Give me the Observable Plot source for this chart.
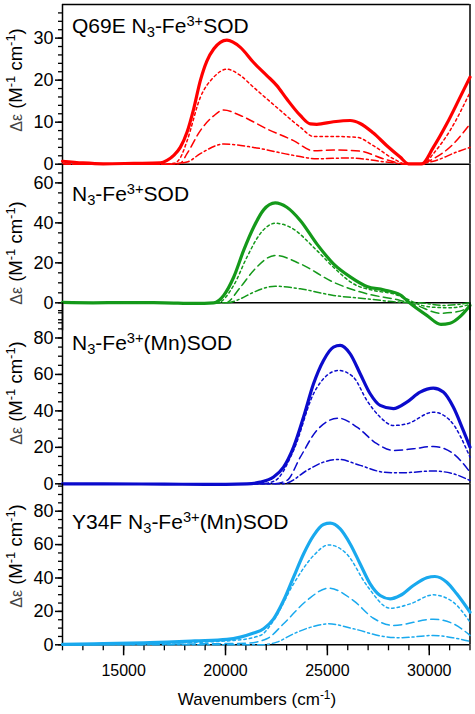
<!DOCTYPE html>
<html><head><meta charset="utf-8">
<script src="https://cdn.jsdelivr.net/npm/d3@7"></script>
<script src="https://cdn.jsdelivr.net/npm/@observablehq/plot@0.6"></script>
<style>
body{margin:0;background:#fff;font-family:"Liberation Sans",Arial,sans-serif;}
#c{position:relative;width:475px;height:714px;overflow:hidden;background:#fff}
#c svg{position:absolute;left:0;top:0}
.t{position:absolute;font-size:21px;line-height:21px;color:#000;white-space:nowrap}
.t sub,.t sup{font-size:0.7em;line-height:0}
.t sub{vertical-align:-0.25em}
.t sup{vertical-align:0.45em}
.yl{position:absolute;font-size:18.5px;line-height:18px;white-space:nowrap;transform:translate(-50%,-50%) rotate(-90deg)}
.yl sup{font-size:0.7em;line-height:0;vertical-align:0.5em}
.yl .d{font-size:16px;color:#444}
.xl{position:absolute;font-size:17px;line-height:17px;white-space:nowrap;transform:translateX(-50%)}
.xl sup{font-size:0.7em;line-height:0;vertical-align:0.5em}
</style></head><body><div id="c"></div>
<script>
// ---------- data (wavenumber cm^-1, Δε M^-1 cm^-1) ----------
const titles = ["Q69E N<sub>3</sub>-Fe<sup>3+</sup>SOD", "N<sub>3</sub>-Fe<sup>3+</sup>SOD", "N<sub>3</sub>-Fe<sup>3+</sup>(Mn)SOD", "Y34F N<sub>3</sub>-Fe<sup>3+</sup>(Mn)SOD"];
const xMajorTicks = [15000, 20000, 25000, 30000];
const xMinorTicks = [12000,13000,14000,15000,16000,17000,18000,19000,20000,21000,22000,23000,24000,25000,26000,27000,28000,29000,30000,31000,32000];
const yMajor1 = [0, 10, 20, 30];
const yMajor2 = [0, 20, 40, 60];
const yMajor3 = [0, 20, 40, 60, 80];
const yMajor4 = [0, 20, 40, 60, 80];

// Panel 1: Q69E N3-Fe3+SOD (red)
const q69eSolid = [[12000,0.7],[13000,0.3],[14000,0.1],[15500,0.2],[16800,0.3],[17130,0.9],[17460,2.1],[17780,4.0],[18110,7.6],[18430,13.0],[18765,19.9],[19090,24.6],[19420,27.4],[19745,29.0],[20070,29.5],[20730,27.8],[21380,24.2],[22030,21.1],[22520,18.7],[23010,15.5],[23670,11.6],[24160,9.6],[24480,9.5],[25300,10.1],[26120,10.4],[26610,9.7],[27260,7.4],[27920,4.4],[28570,1.7],[28980,0.1],[29630,0.1],[30200,4.0],[30860,9.6],[31510,15.9],[32000,20.7]];
const q69eDot = [[12000,0],[16800,0],[17460,0.2],[17780,1.5],[18110,5.5],[18765,15.9],[19420,20.7],[20070,22.6],[20730,21.1],[21380,18.3],[22520,13.5],[23670,8.8],[24320,6.6],[25300,6.6],[26450,6.4],[27260,4.4],[28240,1.3],[28900,0],[29710,0],[30200,2.5],[31020,8.0],[32000,17.1]];
const q69eDash = [[12000,0],[17000,0],[17800,0.3],[18110,2.5],[18765,8.0],[19420,11.5],[19910,12.9],[20730,11.6],[22030,8.4],[23340,5.6],[24320,3.2],[25300,3.4],[26610,3.1],[27750,1.3],[28900,0],[29550,0],[30200,1.3],[31180,4.8],[32000,9.6]];
const q69eDashDot = [[12000,0],[17300,0],[18110,0.5],[18765,2.5],[19910,4.8],[21380,4.0],[23340,2.1],[24480,1.3],[26120,1.5],[27750,0.6],[29060,0],[30200,0.7],[31350,2.9],[32000,4.0]];

// Panel 2: N3-Fe3+SOD (green)
const feSolid = [[12000,0.2],[13500,0],[15000,0.1],[17000,0],[18500,-0.3],[19420,0],[19910,3.7],[20400,12.8],[20890,26.2],[21380,37.8],[21870,46.5],[22440,50.0],[23010,47.8],[23670,41.2],[24480,29.5],[25300,19.5],[26120,13.0],[26940,8.2],[27750,6.5],[28570,4.0],[29090,-0.5],[29880,-6.3],[30570,-10.8],[31020,-10.2],[31550,-6.5],[32000,-1.3]];
const feDot = [[12000,0],[19600,0],[20400,8.7],[21050,22.8],[21700,34.5],[22440,39.8],[23180,37.8],[24480,26.2],[25300,17.8],[26280,9.5],[27260,6.2],[28240,4.5],[28900,2.0],[29390,-0.5],[30200,-2.2],[31020,-2.5],[32000,-0.8]];
const feDash = [[12000,0],[20000,0],[20730,7.8],[21380,16.2],[22440,23.7],[23670,19.5],[25300,10.3],[26940,4.5],[28570,1.2],[29390,-1.3],[30530,-5.2],[31350,-4.5],[32000,-2.2]];
const feDashDot = [[12000,0],[20100,0],[20730,2.0],[21380,5.3],[22440,8.3],[23670,7.0],[25300,3.7],[26940,2.0],[28570,0.3],[29550,0],[30700,-1.3],[32000,0]];

// Panel 3: N3-Fe3+(Mn)SOD (blue)
const mnSolid = [[12000,0],[14000,0],[17000,-0.2],[19000,-0.3],[21050,0],[21710,0.9],[22360,3.7],[22850,9.1],[23340,20.1],[23830,36.6],[24320,54.9],[24810,67.7],[25300,75.0],[25630,75.9],[26120,71.3],[26610,60.4],[27100,49.4],[27590,43.0],[28240,41.2],[28900,44.8],[29550,50.3],[30200,52.5],[30690,50.3],[31180,42.1],[31670,29.3],[32000,20.1]];
const mnDot = [[12000,0],[21700,0],[22400,1.5],[23340,18.3],[24320,49.4],[24970,59.4],[25550,62.2],[26280,58.5],[26940,45.7],[27590,36.6],[28240,32.0],[28900,32.9],[30200,39.3],[31020,34.8],[32000,14.6]];
const mnDash = [[12000,0],[22300,0],[23010,1.8],[23670,14.6],[24480,29.3],[25550,36.0],[26450,31.1],[27430,22.0],[28240,18.3],[29220,19.2],[30200,20.5],[31180,16.5],[32000,6.4]];
const mnDashDot = [[12000,0],[22700,0],[23010,0.4],[23990,7.3],[24810,11.9],[25550,13.4],[26610,10.1],[27750,6.4],[28570,6.0],[30200,7.0],[31180,5.5],[32000,1.8]];

// Panel 4: Y34F N3-Fe3+(Mn)SOD (light blue)
const y34fSolid = [[12000,0.3],[14000,0.7],[16000,1.2],[17130,1.6],[18500,2.3],[20070,3.2],[20730,4.6],[21380,7.0],[21870,9.6],[22360,15.5],[22850,26.5],[23340,40.5],[23830,54.4],[24320,65.4],[24810,72.0],[25140,72.8],[25630,69.4],[26120,60.4],[26610,48.4],[27100,36.5],[27590,29.5],[28080,27.5],[28570,29.5],[29220,35.5],[29880,40.1],[30280,40.9],[30860,37.5],[31350,30.5],[32000,19.5]];
const y34fDot = [[12000,0],[14000,0.4],[17130,1.0],[20400,2.6],[21710,5.6],[22360,14.5],[23340,36.5],[24320,53.4],[25060,59.8],[25950,54.4],[26940,35.5],[28080,21.9],[29060,24.5],[30200,29.9],[31180,25.5],[32000,13.6]];
const y34fDash = [[12000,0],[16000,0.3],[19000,0.6],[21050,1.0],[22030,3.6],[22850,12.6],[23990,26.5],[25060,33.9],[26280,26.5],[27260,15.9],[28240,11.6],[30200,15.3],[31180,12.6],[32000,5.6]];
const y34fDashDot = [[12000,0],[19000,0],[21710,0],[22520,1.6],[23340,6.6],[24320,11.0],[25060,12.6],[26280,9.6],[27750,5.0],[28570,4.2],[30200,5.6],[31180,4.2],[32000,2.0]];

// ---------- styles / layout ----------
const lineStyles = [
  {dash: null, width: 3.2},
  {dash: "2.5,3", width: 1.5},
  {dash: "8,4.5", width: 1.5},
  {dash: "7,3,2,3", width: 1.5}
];
const panels = [
  {series:[q69eSolid,q69eDot,q69eDash,q69eDashDot], color:"#ff0000", domain:[0,38], mt:4, mb:550.3, major:yMajor1, minorStep:2, title:titles[0], titleTop:15, labelY:80},
  {series:[feSolid,feDot,feDash,feDashDot], color:"#14991a", domain:[-14,69.2], mt:164, mb:383.7, major:yMajor2, minorStep:5, title:titles[1], titleTop:182.5, labelY:253},
  {series:[mnSolid,mnDot,mnDash,mnDashDot], color:"#0b0bcc", domain:[0,99.3], mt:302.3, mb:230.7, major:yMajor3, minorStep:5, title:titles[2], titleTop:332, labelY:393},
  {series:[y34fSolid,y34fDot,y34fDash,y34fDashDot], color:"#19a9ee", domain:[0,96.4], mt:483.3, mb:69.7, major:yMajor4, minorStep:5, title:titles[3], titleTop:510.5, labelY:556}
];

const c = document.getElementById("c");
const FONT = '"Liberation Sans", Arial, sans-serif';

panels.forEach((p, i) => {
  const minor = d3.range(Math.ceil(p.domain[0] / p.minorStep) * p.minorStep, p.domain[1], p.minorStep);
  const marks = [
    Plot.ruleY([0], {stroke: "#000", strokeWidth: 1.5}),
    Plot.ruleX([12000, 32000], {y1: p.domain[0], y2: p.domain[1], stroke: "#000", strokeWidth: 1.5}),
    Plot.axisY(minor, {tickSize: 4, text: null, strokeWidth: 1.3, label: null}),
    Plot.axisY(p.major, {tickSize: 7, tickPadding: 2, strokeWidth: 1.5, label: null, fontSize: 18, tickFormat: d => String(d), fill: "#000"})
  ];
  if (i === 0) marks.push(Plot.ruleY([p.domain[1]], {stroke: "#000", strokeWidth: 1.5}));
  if (i === 3) {
    marks.push(Plot.axisX(xMinorTicks, {tickSize: 6, text: null, strokeWidth: 1.3, label: null}));
    marks.push(Plot.axisX(xMajorTicks, {tickSize: 11, tickPadding: 9, strokeWidth: 1.5, label: null, fontSize: 16, tickFormat: d => String(d), fill: "#000"}));
  }
  p.series.forEach((s, k) => {
    marks.push(Plot.line(s, {
      x: d => d[0], y: d => d[1],
      stroke: p.color,
      strokeWidth: lineStyles[k].width,
      strokeDasharray: lineStyles[k].dash,
      curve: "monotone-x",
      strokeLinejoin: "round"
    }));
  });
  const svg = Plot.plot({
    width: 475, height: 714,
    marginLeft: 62, marginRight: 5.5, marginTop: p.mt, marginBottom: p.mb,
    x: {domain: [12000, 32000], ...(i === 3 ? {} : {axis: null})},
    y: {domain: p.domain},
    style: {background: "transparent", overflow: "visible", fontFamily: FONT, color: "#000"},
    marks
  });
  c.appendChild(svg);

  const t = document.createElement("div");
  t.className = "t";
  t.style.left = "72px";
  t.style.top = p.titleTop + "px";
  t.innerHTML = p.title;
  c.appendChild(t);

  const yl = document.createElement("div");
  yl.className = "yl";
  yl.style.left = "16px";
  yl.style.top = p.labelY + "px";
  yl.innerHTML = '<span class="d">Δε</span> (M<sup>-1</sup> cm<sup>-1</sup>)';
  c.appendChild(yl);
});

const xl = document.createElement("div");
xl.className = "xl";
xl.style.left = "257px";
xl.style.top = "691px";
xl.innerHTML = 'Wavenumbers (cm<sup>-1</sup>)';
c.appendChild(xl);
</script>
</body></html>
